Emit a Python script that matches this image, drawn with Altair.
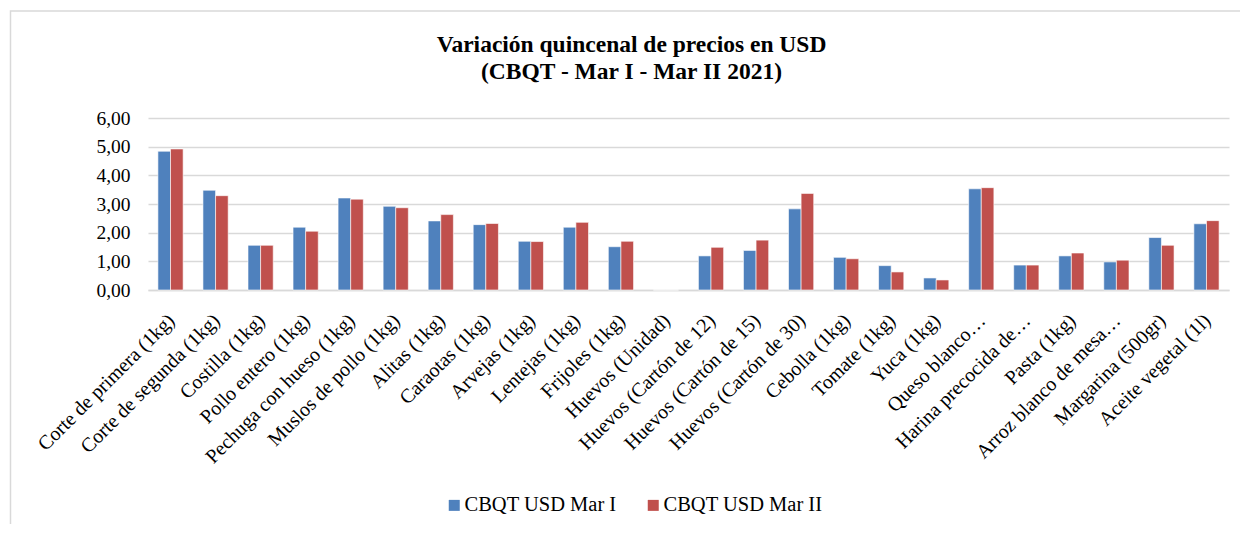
import altair as alt
import pandas as pd

categories = [
    "Corte de primera (1kg)", "Corte de segunda (1kg)", "Costilla (1kg)",
    "Pollo entero (1kg)", "Pechuga con hueso (1kg)", "Muslos de pollo (1kg)",
    "Alitas (1kg)", "Caraotas (1kg)", "Arvejas (1kg)", "Lentejas (1kg)",
    "Frijoles (1kg)", "Huevos (Unidad)", "Huevos (Cartón de 12)",
    "Huevos (Cartón de 15)", "Huevos (Cartón de 30)", "Cebolla (1kg)",
    "Tomate (1kg)", "Yuca (1kg)", "Queso blanco…", "Harina precocida de…",
    "Pasta (1kg)", "Arroz blanco de mesa…", "Margarina (500gr)", "Aceite vegetal (1l)",
]
mar_i = [4.84, 3.48, 1.56, 2.19, 3.21, 2.92, 2.41, 2.28, 1.70, 2.19,
         1.51, 0.0, 1.19, 1.38, 2.83, 1.14, 0.85, 0.42, 3.53, 0.87,
         1.19, 0.98, 1.83, 2.31]
mar_ii = [4.92, 3.29, 1.56, 2.05, 3.17, 2.87, 2.63, 2.32, 1.69, 2.36,
          1.70, 0.0, 1.49, 1.74, 3.37, 1.09, 0.63, 0.35, 3.57, 0.87,
          1.29, 1.04, 1.56, 2.42]
series = ["CBQT USD Mar I", "CBQT USD Mar II"]
colors = ["#4f81bd", "#c0504d"]

rows = []
for c, a, b in zip(categories, mar_i, mar_ii):
    rows.append({"cat": c, "serie": series[0], "valor": a})
    rows.append({"cat": c, "serie": series[1], "valor": b})
df = pd.DataFrame(rows)

font = "Liberation Serif"

bars = alt.Chart(df).mark_bar(stroke="white", strokeWidth=0.6).encode(
    x=alt.X("cat:N", sort=categories, title=None,
            scale=alt.Scale(paddingInner=0.44, paddingOuter=0.22),
            axis=alt.Axis(labelAngle=-45, labelFontSize=20, labelFont=font,
                          labelColor="#000000", ticks=False, domainColor="#d9d9d9",
                          domainWidth=1.5, labelPadding=20, labelOffset=-6,
                          labelLimit=400)),
    xOffset=alt.XOffset("serie:N", sort=series),
    y=alt.Y("valor:Q", title=None,
            scale=alt.Scale(domain=[0, 6], nice=False),
            axis=alt.Axis(values=[0, 1, 2, 3, 4, 5, 6], format=".2f",
                          labelExpr="replace(format(datum.value, '.2f'), '.', ',')",
                          labelFontSize=19.5, labelFont=font, labelColor="#000000",
                          ticks=False, domain=False, gridColor="#d9d9d9",
                          gridWidth=1.5, labelPadding=18)),
    color=alt.Color("serie:N", sort=series,
                    scale=alt.Scale(domain=series, range=colors),
                    legend=alt.Legend(title=None, orient="none", direction="horizontal",
                                      legendX=296, legendY=377, symbolType="square",
                                      symbolSize=121, symbolStrokeWidth=0,
                                      labelFont=font, labelFontSize=20.5,
                                      labelColor="#000000", columnPadding=26,
                                      labelOffset=0)),
)

frame = alt.Chart(pd.DataFrame({"k": [0]})).mark_rect(
    fill=None, stroke="#d9d9d9", strokeWidth=1.5
).encode(
    x=alt.value(-137.5), x2=alt.value(1110), y=alt.value(-107), y2=alt.value(430)
)

chart = alt.layer(frame, bars).properties(
    width=1081,
    height=172,
    title=alt.TitleParams(
        text=["Variación quincenal de precios en USD", "(CBQT - Mar I - Mar II 2021)"],
        font=font, fontSize=23.5, fontWeight="bold", color="#000000",
        anchor="middle", frame="group", dx=-57, offset=-73, lineHeight=27),
    padding={"left": 140, "top": 110, "right": 11, "bottom": 234},
    autosize=alt.AutoSizeParams(type="none"),
).configure_view(stroke=None)

chart.save("out.html", embed_options={"renderer": "svg", "actions": False})
